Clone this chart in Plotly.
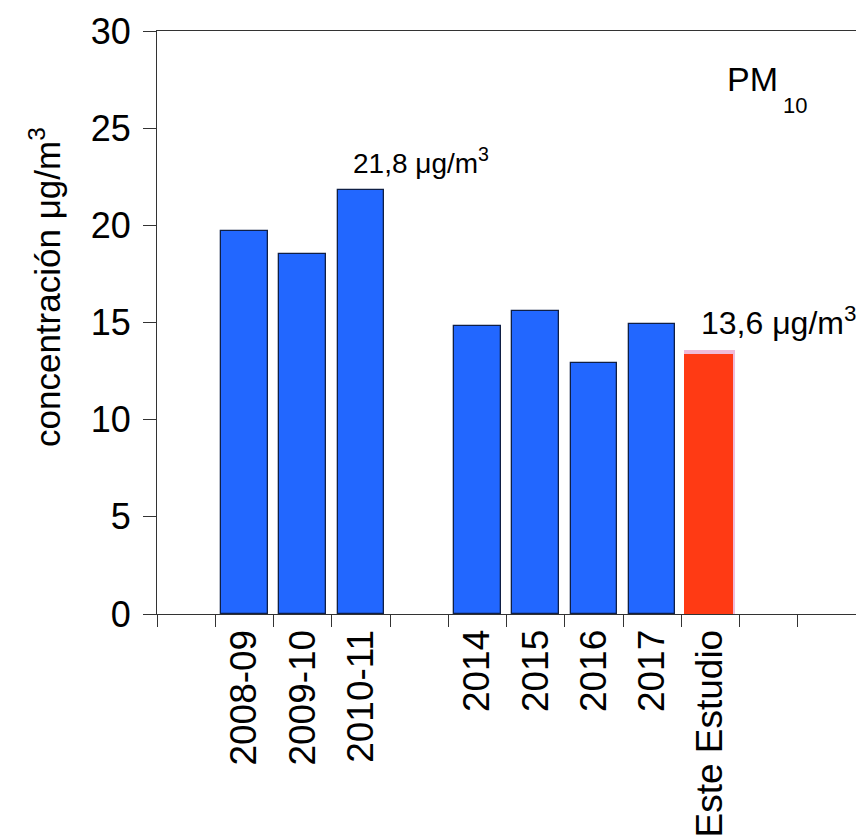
import plotly.graph_objects as go

# Axis slots, in order; blank names keep the empty gaps on the category axis
slots = [" ", "2008-09", "2009-10", "2010-11", "  ",
         "2014", "2015", "2016", "2017", "Este Estudio", "   ", "    "]

# Annual PM10 means (µg/m3)
hist_labels = ["2008-09", "2009-10", "2010-11", "2014", "2015", "2016", "2017"]
hist_values = [19.7, 18.5, 21.8, 14.8, 15.6, 12.9, 14.9]

# This study: reported mean and the lower bar drawn on top of it
study_label = ["Este Estudio"]
study_mean = [13.6]
study_bar = [13.4]

FONT = "Liberation Sans, Arial, sans-serif"

fig = go.Figure()

# invisible trace so every slot (including blank ones) is a category
fig.add_trace(go.Scatter(x=slots, y=[0] * len(slots), mode="markers",
                         marker=dict(opacity=0), hoverinfo="skip",
                         showlegend=False))

fig.add_trace(go.Bar(x=hist_labels, y=hist_values, width=0.8,
                     marker=dict(color="#2267FF",
                                 line=dict(color="#0f1f45", width=1.3)),
                     showlegend=False))

fig.add_trace(go.Bar(x=study_label, y=study_mean, width=0.875, offset=-0.45,
                     marker=dict(color="#EFBBDA", line=dict(width=0)),
                     showlegend=False))
fig.add_trace(go.Bar(x=study_label, y=study_bar, width=0.84, offset=-0.45,
                     marker=dict(color="#FF3A14", line=dict(width=0)),
                     showlegend=False))

ann = []
# value labels
ann.append(dict(x=hist_labels.index("2010-11") + 1, y=hist_values[2],
                xref="x", yref="y", xanchor="left", yanchor="bottom",
                xshift=-10, yshift=9, showarrow=False,
                text="21,8 μg/m<sup>3</sup>",
                font=dict(family=FONT, size=28, color="black")))
ann.append(dict(x=slots.index("Este Estudio"), y=study_mean[0],
                xref="x", yref="y", xanchor="left", yanchor="bottom",
                xshift=-11, yshift=7, showarrow=False,
                text="13,6 μg/m<sup>3</sup>",
                font=dict(family=FONT, size=32, color="black")))
# PM10 tag
ann.append(dict(x=0.813, y=(614 - 78.5) / 583, xref="paper", yref="paper",
                xanchor="left", yanchor="middle", showarrow=False,
                text="PM", font=dict(family=FONT, size=34, color="black")))
ann.append(dict(x=0.8925, y=(614 - 105) / 583, xref="paper", yref="paper",
                xanchor="left", yanchor="middle", showarrow=False,
                text="10", font=dict(family=FONT, size=22, color="black")))
# y-axis title
ann.append(dict(x=(45 - 157) / 699, y=(614 - 287) / 583,
                xref="paper", yref="paper", xanchor="center", yanchor="middle",
                textangle=-90, showarrow=False,
                text="concentración μg/m<sup>3</sup>",
                font=dict(family=FONT, size=35, color="black")))

fig.update_layout(
    width=856, height=838,
    margin=dict(l=157, r=0, t=31, b=224),
    paper_bgcolor="white", plot_bgcolor="white",
    barmode="overlay",
    bargap=0,
    annotations=ann,
    font=dict(family=FONT, color="black"),
)

fig.update_xaxes(
    type="category", categoryorder="array", categoryarray=slots,
    range=[-0.5, len(slots) - 0.5],
    tickson="boundaries", ticks="outside", ticklen=12, tickwidth=1,
    tickcolor="#333", tickangle=-90,
    tickfont=dict(family=FONT, size=37, color="black"),
    showline=True, linecolor="#333", linewidth=1, mirror=True,
    showgrid=False, zeroline=False, fixedrange=True,
)

fig.update_yaxes(
    range=[0, 30], tickvals=[0, 5, 10, 15, 20, 25, 30],
    ticks="outside", ticklen=13, tickwidth=1, tickcolor="#333",
    ticklabelstandoff=5,
    tickfont=dict(family=FONT, size=36, color="black"),
    showline=True, linecolor="#333", linewidth=1,
    showgrid=False, zeroline=False, fixedrange=True,
)

fig.write_html("out.html")
